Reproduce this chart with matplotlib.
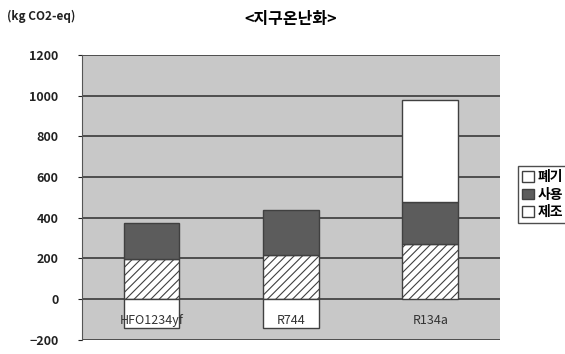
import matplotlib.pyplot as plt
import numpy as np

plt.rcParams['font.family'] = ['Noto Sans CJK KR', 'DejaVu Sans']
plt.rcParams['hatch.color'] = '#707070'
plt.rcParams['hatch.linewidth'] = 0.8

categories = ["HFO1234yf", "R744", "R134a"]
manufacture = np.array([195, 215, 270])   # 제조
use = np.array([180, 225, 205])           # 사용
disposal = np.array([-140, -140, 505])    # 폐기

fig = plt.figure(figsize=(5.65, 3.54), dpi=100)
ax = fig.add_axes([0.145, 0.04, 0.74, 0.805])
ax.set_facecolor('#c8c8c8')

x = np.arange(len(categories))
w = 0.4
edge = '#404040'
b1 = ax.bar(x, manufacture, w, color='white', edgecolor=edge, hatch='////', linewidth=1, zorder=3)
b2 = ax.bar(x, use, w, bottom=manufacture, color='#5c5c5c', edgecolor=edge, linewidth=1, zorder=3)
pos_bottom = np.where(disposal > 0, manufacture + use, 0)
b3 = ax.bar(x, disposal, w, bottom=pos_bottom, color='white', edgecolor=edge, linewidth=1, zorder=3)

ax.set_xlim(-0.5, len(categories) - 0.5)
ax.set_ylim(-200, 1200)
ax.set_yticks(np.arange(-200, 1201, 200))
ax.yaxis.grid(True, color='#3a3a3a', linewidth=1.2, zorder=1)
ax.set_xticks([])
ax.tick_params(axis='y', length=3, pad=14, labelsize=9, colors='#222222')
for t in ax.get_yticklabels():
    t.set_fontweight('bold')
for s in ['top', 'right', 'bottom']:
    ax.spines[s].set_visible(False)
ax.spines['left'].set_color('#555555')

for i, c in enumerate(categories):
    ax.text(x[i], -105, c, ha='center', va='center', fontsize=9, color='#333333', zorder=4)

fig.text(0.012, 0.955, "(kg CO2-eq)", fontsize=8.5, fontweight='bold', color='#222222', va='center')
fig.text(0.515, 0.945, "<지구온난화>", fontsize=11.5, fontweight='bold', ha='center', va='center')

leg = fig.legend([b3, b2, b1], ["폐기", "사용", "제조"], loc='center left',
                 bbox_to_anchor=(0.905, 0.45), fontsize=10, frameon=True,
                 handlelength=0.8, handleheight=0.8, handletextpad=0.3,
                 borderpad=0.3, labelspacing=0.25, fancybox=False, edgecolor='#222222')
leg.legend_handles[2].set_hatch('')
for t in leg.get_texts():
    t.set_fontweight('bold')

fig.savefig('out.png', dpi=100)
